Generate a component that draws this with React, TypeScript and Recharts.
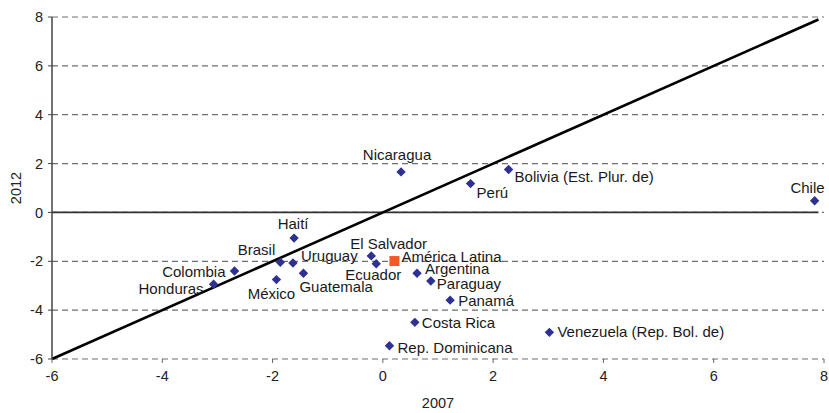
import React from 'react';
import {
  ScatterChart,
  Scatter,
  XAxis,
  YAxis,
  CartesianGrid,
  ReferenceLine,
} from 'recharts';

// 2007 vs 2012, one point per country
const countries = [
  'Nicaragua', 'Haití', 'Brasil', 'Uruguay', 'Guatemala', 'México', 'Colombia',
  'Honduras', 'El Salvador', 'Ecuador', 'Argentina', 'Paraguay', 'Panamá',
  'Costa Rica', 'Rep. Dominicana', 'Venezuela (Rep. Bol. de)', 'Perú',
  'Bolivia (Est. Plur. de)', 'Chile',
];
const x2007 = [
  0.33, -1.61, -1.86, -1.63, -1.44, -1.93, -2.69, -3.07, -0.21, -0.12, 0.62,
  0.87, 1.22, 0.58, 0.12, 3.02, 1.59, 2.28, 7.83,
];
const y2012 = [
  1.66, -1.05, -2.04, -2.07, -2.49, -2.75, -2.4, -2.94, -1.78, -2.1, -2.49,
  -2.81, -3.59, -4.5, -5.46, -4.91, 1.18, 1.76, 0.48,
];

const regionName = 'América Latina';
const region2007 = 0.21;
const region2012 = -1.99;

const axisTicks = [-6, -4, -2, 0, 2, 4, 6, 8];
const diagonalEnds = [-6, 7.9];

// where each label sits relative to its marker: [dx, dy, anchor]
const labelPlacement: Record<string, [number, number, string]> = {
  Nicaragua: [-4, -12, 'middle'],
  'Haití': [-1, -9.5, 'middle'],
  Brasil: [-5, -7, 'end'],
  Uruguay: [8, -2, 'start'],
  Guatemala: [-4, 19, 'start'],
  'México': [-5, 19, 'middle'],
  Colombia: [-9, 6, 'end'],
  Honduras: [-10, 10, 'end'],
  'El Salvador': [-21, -7, 'start'],
  Ecuador: [25, 16.5, 'end'],
  Argentina: [8, 1, 'start'],
  Paraguay: [6, 8, 'start'],
  'Panamá': [8, 6, 'start'],
  'Costa Rica': [7, 6, 'start'],
  'Rep. Dominicana': [8, 7, 'start'],
  'Venezuela (Rep. Bol. de)': [8, 5, 'start'],
  'Perú': [6, 14, 'start'],
  'Bolivia (Est. Plur. de)': [6, 13, 'start'],
  Chile: [10, -8, 'end'],
  'América Latina': [7, 0.5, 'start'],
};

const FONT = '"Liberation Sans", Arial, sans-serif';

const countryData = countries.map((name, i) => ({ name, x: x2007[i], y: y2012[i] }));
const regionData = [{ name: regionName, x: region2007, y: region2012 }];

const PointLabel = ({ cx, cy, name }: { cx: number; cy: number; name: string }) => {
  const [dx, dy, anchor] = labelPlacement[name] || [6, 4, 'start'];
  return (
    <text
      x={cx + dx}
      y={cy + dy}
      textAnchor={anchor as any}
      fontSize={15}
      fontFamily={FONT}
      fill="#1a1a1a"
    >
      {name}
    </text>
  );
};

// eslint-disable-next-line @typescript-eslint/no-explicit-any
const Diamond = (props: any) => {
  const { cx, cy, payload } = props;
  const r = 4.7;
  return (
    <g>
      <path
        d={`M${cx},${cy - r}L${cx + r},${cy}L${cx},${cy + r}L${cx - r},${cy}Z`}
        fill="#2E3192"
      />
      <PointLabel cx={cx} cy={cy} name={payload.name} />
    </g>
  );
};

// eslint-disable-next-line @typescript-eslint/no-explicit-any
const Square = (props: any) => {
  const { cx, cy, payload } = props;
  const s = 5;
  return (
    <g>
      <rect x={cx - s} y={cy - s} width={s * 2} height={s * 2} fill="#F15A24" />
      <PointLabel cx={cx} cy={cy} name={payload.name} />
    </g>
  );
};

export default function App() {
  return (
    <div style={{ position: 'absolute', left: 0, top: 0, background: '#fff' }}>
      <ScatterChart
        width={829}
        height={413}
        margin={{ top: 17, right: 5, bottom: 0, left: 0 }}
      >
        <CartesianGrid vertical={false} stroke="#6e6e6e" strokeDasharray="6 4" strokeWidth={1.2} />
        <XAxis
          type="number"
          dataKey="x"
          domain={[-6, 8]}
          ticks={axisTicks}
          interval={0}
          height={54}
          axisLine={false}
          tickLine={{ stroke: '#666' }}
          tickSize={4}
          tickMargin={8}
          tick={{ fill: '#222', fontSize: 14.5, fontFamily: FONT }}
          label={{
            value: '2007',
            position: 'insideBottom',
            offset: 5,
            fill: '#222',
            fontSize: 14.5,
            fontFamily: FONT,
          }}
        />
        <YAxis
          type="number"
          dataKey="y"
          domain={[-6, 8]}
          ticks={axisTicks}
          interval={0}
          width={52}
          axisLine={{ stroke: '#444', strokeWidth: 1.5 }}
          tickLine={{ stroke: '#444' }}
          tickSize={4}
          tickMargin={5}
          tick={{ fill: '#222', fontSize: 14.5, fontFamily: FONT }}
          label={{
            value: '2012',
            angle: -90,
            position: 'insideLeft',
            offset: 16,
            fill: '#222',
            fontSize: 14.5,
            fontFamily: FONT,
            style: { textAnchor: 'middle' },
          }}
        />
        <ReferenceLine
          segment={[
            { x: -6, y: 0 },
            { x: diagonalEnds[1], y: 0 },
          ]}
          stroke="#333"
          strokeWidth={1.8}
        />
        <ReferenceLine
          segment={[
            { x: diagonalEnds[0], y: diagonalEnds[0] },
            { x: diagonalEnds[1], y: diagonalEnds[1] },
          ]}
          stroke="#000"
          strokeWidth={2.6}
          ifOverflow="visible"
        />
        <Scatter data={countryData} shape={Diamond} isAnimationActive={false} />
        <Scatter data={regionData} shape={Square} isAnimationActive={false} />
      </ScatterChart>
    </div>
  );
}
